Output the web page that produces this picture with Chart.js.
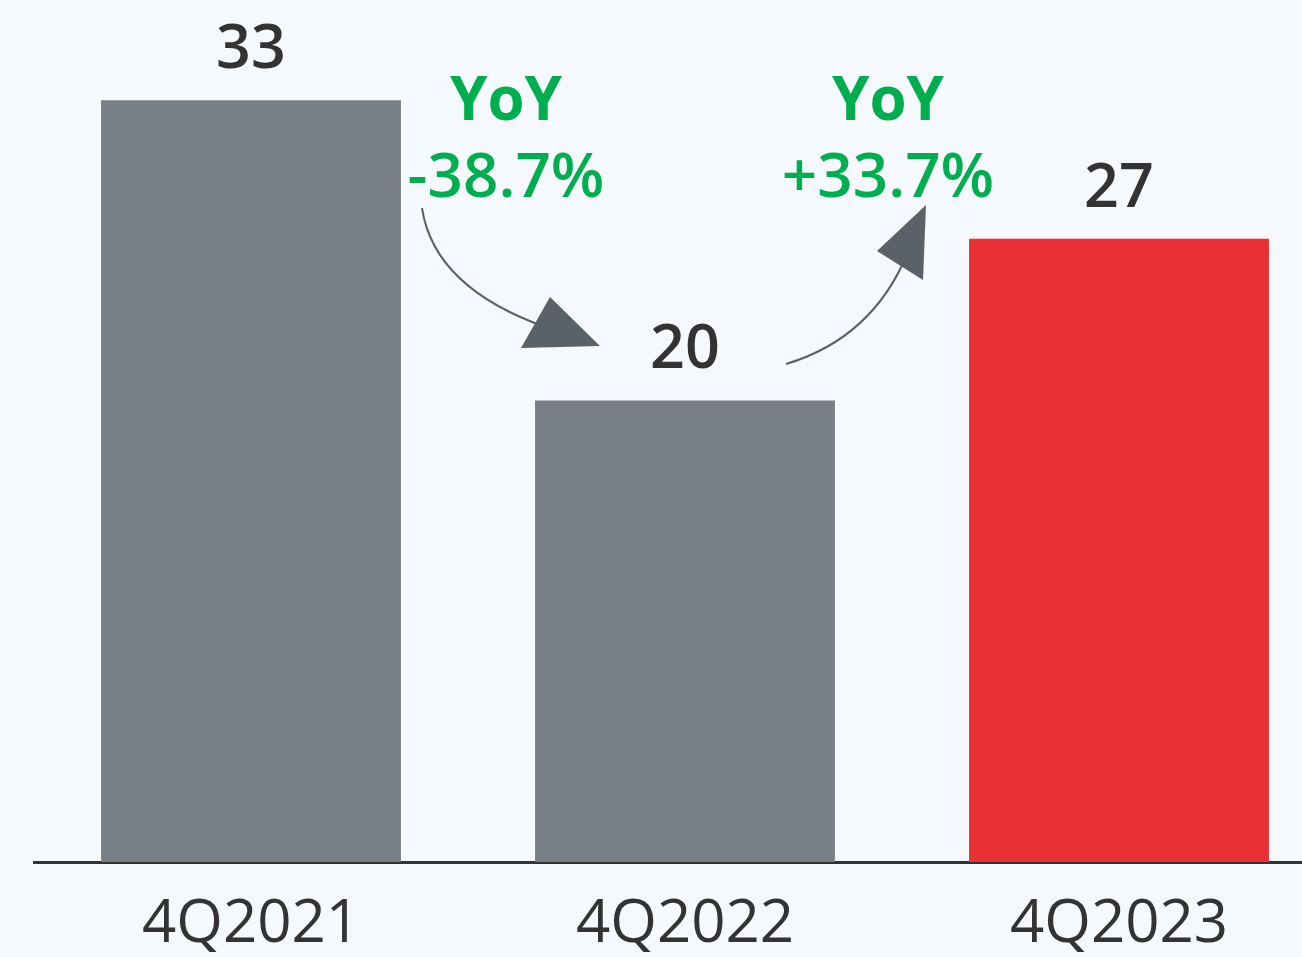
<!DOCTYPE html>
<html>
<head>
<meta charset="utf-8">
<script src="https://cdn.jsdelivr.net/npm/chart.js@4.4.0/dist/chart.umd.min.js"></script>
<style>
  html, body { margin: 0; padding: 0; background: #f5f8fc; overflow: hidden; }
  #wrap { position: relative; width: 1340px; height: 957px; }
</style>
</head>
<body>
<div id="wrap"><canvas id="bchart"></canvas></div>
<script>
// data
const categories = ["4Q2021", "4Q2022", "4Q2023"];
const values = [33, 20, 27];
const yoyLabels = ["-38.7%", "+33.7%"];

const barColors = ["#787f87", "#787f87", "#e83036"];
const textDark = "#333333";
const green = "#00ae4f";
const arrowColor = "#5a6169";
const fontFamily = "'Open Sans', 'Noto Sans', sans-serif";

// value labels + YoY notes + curved arrows
const annotate = {
    id: 'annotate',
    afterDatasetsDraw(chart) {
        const ctx = chart.ctx;
        const meta = chart.getDatasetMeta(0);
        const xs = chart.scales.x;
        ctx.save();
        ctx.textAlign = 'center';
        ctx.textBaseline = 'alphabetic';
        ctx.fillStyle = textDark;
        ctx.font = "600 61px " + fontFamily;
        meta.data.forEach((bar, i) => {
            ctx.fillText(String(values[i]), bar.x, bar.y - 32);
        });

        // gap centers between bars
        const g1 = xs.getPixelForValue(0.5);
        const g2 = xs.getPixelForValue(1.5);

        ctx.fillStyle = green;
        ctx.font = "bold 60px " + fontFamily;
        ctx.fillText("YoY", g1 + 38, 120);
        ctx.fillText("YoY", g2 - 14, 120);
        ctx.font = "600 62px " + fontFamily;
        ctx.fillText(yoyLabels[0], g1 + 38, 197);
        ctx.fillText(yoyLabels[1], g2 - 14, 197);

        function arrow(gx, s, c, e, tri) {
            ctx.strokeStyle = arrowColor;
            ctx.lineWidth = 2;
            ctx.beginPath();
            ctx.moveTo(gx + s[0], s[1]);
            ctx.quadraticCurveTo(gx + c[0], c[1], gx + e[0], e[1]);
            ctx.stroke();
            ctx.fillStyle = arrowColor;
            ctx.beginPath();
            ctx.moveTo(gx + tri[0][0], tri[0][1]);
            ctx.lineTo(gx + tri[1][0], tri[1][1]);
            ctx.lineTo(gx + tri[2][0], tri[2][1]);
            ctx.closePath();
            ctx.fill();
        }
        arrow(g1, [-46, 208], [-34, 288], [80, 328], [[53, 348], [82, 297], [132, 346]]);
        arrow(g2, [-116, 364], [-29, 338], [6, 252], [[-25, 251], [24, 205], [21, 280]]);
        ctx.restore();
    }
};

new Chart(document.getElementById("bchart"), {
    type: 'bar',
    data: {
        labels: categories,
        datasets: [
            {
                data: values,
                backgroundColor: barColors,
                categoryPercentage: 1,
                barPercentage: 0.691
            }
        ]
    },
    options: {
        responsive: true,
        maintainAspectRatio: false,
        animation: false,
        layout: { padding: { left: 34, right: 4, top: 8, bottom: 0 } },
        plugins: {
            legend: { display: false },
            tooltip: { enabled: false }
        },
        scales: {
            x: {
                grid: { display: false, drawTicks: false },
                border: { display: true, color: "#333333", width: 3 },
                ticks: {
                    color: textDark,
                    padding: 27,
                    font: { family: fontFamily, size: 60, weight: 'normal' }
                },
                afterFit(s) { s.height = 95; }
            },
            y: {
                display: false,
                min: 0,
                max: 37
            }
        }
    },
    plugins: [annotate]
});
</script>
</body>
</html>
